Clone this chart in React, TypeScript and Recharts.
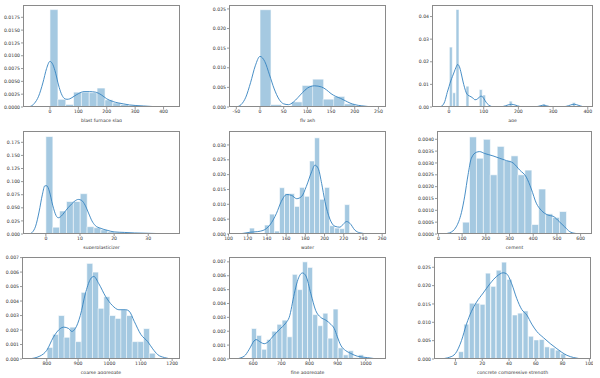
import { ComposedChart, Bar, Line, XAxis, YAxis } from 'recharts'

// histogram bins: start, width, density per bin; kde curve as x/y pairs
const slagBinStart = 0
const slagBinWidth = 27.646
const slagHeights = [0.019, 0.0015, 0.0005, 0.0029, 0.0029, 0.0028, 0.0037, 0.0014, 0.0008, 0.0005, 0.0003, 0.0002, 0.0001]
const slagKdeX = [-85, -70, -55, -40, -25, -12, 0, 10, 20, 30, 40, 50, 60, 70, 85, 100, 120, 140, 160, 180, 200, 220, 240, 260, 280, 300, 330, 360, 390, 425]
const slagKdeY = [0, 0.0001, 0.0007, 0.0021, 0.0047, 0.0075, 0.0089, 0.0083, 0.0066, 0.0043, 0.0026, 0.0017, 0.0015, 0.0016, 0.0021, 0.0026, 0.003, 0.003, 0.0029, 0.0024, 0.0016, 0.0011, 0.0008, 0.0006, 0.0004, 0.0003, 0.0002, 0.0001, 0.00004, 0]

const ashBinStart = 0
const ashBinWidth = 22.233
const ashHeights = [0.0248, 0.0006, 0.0001, 0.0013, 0.0055, 0.0071, 0.002, 0.0027, 0.0008]
const ashKdeX = [-50, -40, -30, -20, -10, 0, 10, 20, 30, 40, 50, 60, 70, 80, 90, 100, 115, 130, 140, 150, 160, 170, 180, 190, 200, 215, 230, 250]
const ashKdeY = [0, 0.0006, 0.0025, 0.0062, 0.0105, 0.0129, 0.0116, 0.0082, 0.0046, 0.002, 0.0008, 0.0006, 0.0012, 0.0024, 0.0037, 0.0048, 0.0054, 0.0051, 0.0044, 0.0034, 0.0027, 0.0022, 0.0016, 0.001, 0.0006, 0.0003, 0.0001, 0]

const ageBinStart = 1
const ageBinWidth = 9.5789
const ageHeights = [
  0.0265, 0.0063, 0.0431, 0, 0, 0.0092, 0, 0, 0, 0.0077, 0.0053, 0, 0.0003, 0, 0, 0, 0, 0, 0.0026,
  0, 0, 0, 0, 0, 0, 0, 0, 0, 0.0013, 0, 0, 0, 0, 0, 0, 0, 0, 0.002,
]
const ageKdeX = [-28, -20, -12, -5, 0, 5, 10, 15, 20, 25, 30, 35, 40, 45, 50, 55, 60, 67, 75, 82, 88, 93, 98, 104, 110, 118, 128, 140, 155, 170, 180, 190, 205, 220, 250, 265, 273, 282, 300, 330, 345, 355, 362, 372, 385, 395]
const ageKdeY = [0, 0.0005, 0.0025, 0.0065, 0.009, 0.0115, 0.0135, 0.0155, 0.0175, 0.0188, 0.0178, 0.015, 0.0115, 0.0085, 0.0062, 0.0052, 0.0048, 0.0042, 0.0032, 0.0035, 0.0045, 0.0048, 0.0043, 0.0028, 0.0015, 0.0005, 0.0001, 0, 0.0002, 0.0009, 0.0012, 0.0009, 0.0002, 0, 0.0001, 0.0006, 0.0008, 0.0005, 0, 0.0001, 0.0006, 0.0011, 0.0012, 0.0008, 0.0002, 0]

const superBinStart = 0
const superBinWidth = 2.0125
const superHeights = [0.186, 0.013, 0.044, 0.062, 0.062, 0.077, 0.014, 0.012, 0.008, 0.004, 0.003, 0.002, 0.001, 0.0015, 0.0005, 0.001]
const superKdeX = [-4.7, -4, -3, -2, -1, -0.3, 0.3, 1, 2, 3, 3.6, 4.5, 5.5, 6.5, 7.5, 8.5, 9.5, 10.5, 11.5, 12.5, 13.5, 14.5, 16, 18, 20, 23, 26, 29, 32, 34.5, 37]
const superKdeY = [0, 0.003, 0.015, 0.042, 0.076, 0.092, 0.092, 0.082, 0.055, 0.035, 0.031, 0.034, 0.042, 0.05, 0.057, 0.063, 0.066, 0.064, 0.055, 0.04, 0.025, 0.016, 0.011, 0.007, 0.004, 0.003, 0.002, 0.0015, 0.001, 0.0004, 0]

const waterBinStart = 121.8
const waterBinWidth = 5.2167
const waterHeights = [0.002, 0, 0, 0.003, 0.0067, 0.001, 0.0156, 0.0136, 0.0136, 0.0093, 0.0157, 0.0127, 0.0246, 0.0324, 0.0117, 0.0157, 0.0028, 0.002, 0.0018, 0.0099, 0.0005, 0.0002, 0, 0.0002]
const waterKdeX = [107, 115, 122.5, 130, 136, 143, 150, 155, 160.6, 165.8, 171, 176, 181, 186.6, 190, 193.5, 197, 200.4, 205.6, 210.8, 216, 220, 223, 226.4, 231.6, 236.8, 243.7, 250, 257]
const waterKdeY = [0, 0.0002, 0.0006, 0.0008, 0.0012, 0.003, 0.007, 0.011, 0.0133, 0.013, 0.0119, 0.0126, 0.016, 0.021, 0.0232, 0.022, 0.017, 0.011, 0.005, 0.0026, 0.0023, 0.0035, 0.0042, 0.0036, 0.0013, 0.0004, 0.0001, 0.00003, 0]

const cementBinStart = 102
const cementBinWidth = 29.2
const cementHeights = [0.0005, 0.0041, 0.0032, 0.004, 0.0025, 0.0037, 0.0031, 0.0033, 0.0025, 0.0027, 0.0004, 0.0019, 0.00085, 0.0007, 0.00095]
const cementKdeX = [20, 47, 75, 97, 111, 125, 139, 160, 174, 195, 230, 258, 287, 315, 343, 371, 392, 413, 434, 462, 484, 512, 533, 554, 575, 600]
const cementKdeY = [0, 0.00005, 0.0003, 0.0009, 0.0016, 0.0025, 0.0032, 0.00345, 0.00348, 0.0034, 0.0033, 0.0032, 0.0031, 0.003, 0.0027, 0.0024, 0.0019, 0.0013, 0.001, 0.0008, 0.00075, 0.0005, 0.0003, 0.0001, 0.00003, 0]

const coarseBinStart = 801
const coarseBinWidth = 18.105
const coarseHeights = [0.0008, 0.0017, 0.003, 0.0015, 0.0022, 0.0012, 0.0046, 0.0066, 0.006, 0.0035, 0.0043, 0.003, 0.0028, 0.0034, 0.003, 0.0012, 0.0012, 0.0021, 0.0004]
const coarseKdeX = [741, 778, 800, 821, 843, 854, 870, 880, 891, 907, 923, 939, 950, 966, 988, 1009, 1030, 1052, 1063, 1079, 1100, 1122, 1138, 1154, 1175, 1202]
const coarseKdeY = [0, 0.0002, 0.0006, 0.0015, 0.0021, 0.0022, 0.0021, 0.0019, 0.0021, 0.003, 0.0045, 0.0055, 0.0057, 0.0052, 0.0043, 0.0037, 0.0034, 0.0034, 0.0033, 0.0026, 0.0017, 0.0012, 0.0007, 0.0003, 0.0001, 0]

const fineBinStart = 594
const fineBinWidth = 18.118
const fineHeights = [0.0022, 0.0017, 0.0007, 0.0014, 0.002, 0.0025, 0.0028, 0.0016, 0.0061, 0.005, 0.007, 0.0066, 0.0032, 0.0024, 0.0033, 0.0015, 0.0036, 0.0008, 0.0003, 0.0006, 0.0001, 0.0003]
const fineKdeX = [538, 568, 586, 603, 610, 627, 639, 651, 669, 692, 716, 728, 746, 757, 775, 787, 805, 822, 840, 858, 876, 888, 899, 911, 929, 947, 970, 1006, 1041]
const fineKdeY = [0, 0.0002, 0.0007, 0.0013, 0.0014, 0.0012, 0.0011, 0.0012, 0.0016, 0.0021, 0.0026, 0.003, 0.0047, 0.0056, 0.0062, 0.006, 0.0047, 0.0035, 0.003, 0.0028, 0.0025, 0.0022, 0.0016, 0.001, 0.0006, 0.0004, 0.0002, 0.0001, 0]

const strengthBinStart = 2.33
const strengthBinWidth = 4.0135
const strengthHeights = [0.002, 0.0095, 0.0152, 0.0152, 0.0149, 0.0234, 0.0198, 0.0242, 0.0264, 0.0217, 0.012, 0.0125, 0.0131, 0.0062, 0.0052, 0.0053, 0.0033, 0.003, 0.0024, 0.0014]
const strengthKdeX = [-11.75, -4.25, 0, 4.5, 8.25, 12, 15.75, 20.75, 25.75, 30.75, 35.75, 38.25, 42, 45.75, 49.5, 53.25, 57, 60.75, 65.75, 70.75, 75.75, 79.5, 83.25, 88.25, 95.75]
const strengthKdeY = [0, 0.0005, 0.0015, 0.005, 0.0095, 0.013, 0.0155, 0.018, 0.0205, 0.0225, 0.0235, 0.0232, 0.0205, 0.0165, 0.0135, 0.012, 0.0095, 0.0075, 0.0058, 0.0042, 0.0028, 0.0018, 0.001, 0.0004, 0]

const BLUE = '#1f77b4'
const LINE = '#3482c0'
const FONT = 'DejaVu Sans'
const FS = 4.6
const YW = 26
const XH = 15
const PAD = 4 // room above the plot so the top tick label is not clipped

interface PanelProps {
  left: number
  top: number
  w: number
  h: number
  label: string
  binStart: number
  binWidth: number
  heights: number[]
  kdeX: number[]
  kdeY: number[]
  xDomain: [number, number]
  yDomain: [number, number]
  xTicks: number[]
  yTicks: number[]
  dec: number
}

const Panel = (p: PanelProps) => {
  const bins = p.heights.map((h, i) => ({ x: p.binStart + (i + 0.5) * p.binWidth, h }))
  const kde = p.kdeX.map((x, i) => ({ x, y: p.kdeY[i] }))
  const tickStyle = { fontSize: FS, fill: '#333', fontFamily: FONT }

  return (
    <div style={{ position: 'absolute', left: p.left - YW, top: p.top - PAD }}>
      <ComposedChart
        width={YW + p.w + 2}
        height={p.h + XH + PAD}
        data={bins}
        margin={{ top: PAD, right: 2, bottom: 0, left: 0 }}
        barCategoryGap={0}
        barGap={0}
      >
        <XAxis
          xAxisId="bin"
          type="number"
          dataKey="x"
          domain={p.xDomain}
          ticks={p.xTicks}
          allowDataOverflow
          height={XH}
          axisLine={false}
          tickLine={{ stroke: '#555', strokeWidth: 0.6 }}
          tickSize={2}
          tickMargin={0.5}
          tick={tickStyle}
          interval={0}
          label={{ value: p.label, position: 'insideBottom', offset: 0, fontSize: FS, fill: '#333', fontFamily: FONT }}
        />
        <XAxis xAxisId="kde" type="number" dataKey="x" domain={p.xDomain} allowDataOverflow hide />
        <YAxis
          type="number"
          domain={p.yDomain}
          ticks={p.yTicks}
          allowDataOverflow
          width={YW}
          axisLine={false}
          tickLine={{ stroke: '#555', strokeWidth: 0.6 }}
          tickSize={2}
          tickMargin={1}
          tick={tickStyle}
          interval={0}
          tickFormatter={(v: number) => v.toFixed(p.dec)}
        />
        <Bar
          xAxisId="bin"
          dataKey="h"
          fill={BLUE}
          fillOpacity={0.4}
          stroke="#fff"
          strokeWidth={0.6}
          isAnimationActive={false}
        />
        <Line
          xAxisId="kde"
          data={kde}
          dataKey="y"
          type="monotone"
          stroke={LINE}
          strokeWidth={0.9}
          dot={false}
          activeDot={false}
          isAnimationActive={false}
        />
      </ComposedChart>
      <div
        style={{
          position: 'absolute',
          left: YW,
          top: PAD,
          width: p.w,
          height: p.h,
          border: '1px solid #8a8a8a',
          boxSizing: 'border-box',
          pointerEvents: 'none',
        }}
      />
    </div>
  )
}

export default function App() {
  return (
    <div style={{ position: 'absolute', left: 0, top: 0, width: 600, height: 378, background: '#fff' }}>
      <Panel left={23} top={5} w={157} h={102} label="blast furnace slag"
        binStart={slagBinStart} binWidth={slagBinWidth} heights={slagHeights} kdeX={slagKdeX} kdeY={slagKdeY}
        xDomain={[-95, 458]} yDomain={[0, 0.0199]} xTicks={[0, 100, 200, 300, 400]}
        yTicks={[0, 0.0025, 0.005, 0.0075, 0.01, 0.0125, 0.015, 0.0175]} dec={4} />
      <Panel left={229} top={5} w={157} h={102} label="fly ash"
        binStart={ashBinStart} binWidth={ashBinWidth} heights={ashHeights} kdeX={ashKdeX} kdeY={ashKdeY}
        xDomain={[-65.5, 266]} yDomain={[0, 0.026]} xTicks={[-50, 0, 50, 100, 150, 200, 250]}
        yTicks={[0, 0.005, 0.01, 0.015, 0.02, 0.025]} dec={3} />
      <Panel left={432} top={5} w={161} h={102} label="age"
        binStart={ageBinStart} binWidth={ageBinWidth} heights={ageHeights} kdeX={ageKdeX} kdeY={ageKdeY}
        xDomain={[-49, 415]} yDomain={[0, 0.0451]} xTicks={[0, 100, 200, 300, 400]}
        yTicks={[0, 0.01, 0.02, 0.03, 0.04]} dec={2} />

      <Panel left={23} top={131} w={157} h={103} label="superplasticizer"
        binStart={superBinStart} binWidth={superBinWidth} heights={superHeights} kdeX={superKdeX} kdeY={superKdeY}
        xDomain={[-6.7, 39.3]} yDomain={[0, 0.1966]} xTicks={[0, 10, 20, 30]}
        yTicks={[0, 0.025, 0.05, 0.075, 0.1, 0.125, 0.15, 0.175]} dec={3} />
      <Panel left={229} top={131} w={157} h={103} label="water"
        binStart={waterBinStart} binWidth={waterBinWidth} heights={waterHeights} kdeX={waterKdeX} kdeY={waterKdeY}
        xDomain={[100.5, 264]} yDomain={[0, 0.0347]} xTicks={[100, 120, 140, 160, 180, 200, 220, 240, 260]}
        yTicks={[0, 0.005, 0.01, 0.015, 0.02, 0.025, 0.03]} dec={3} />
      <Panel left={437} top={131} w={155} h={103} label="cement"
        binStart={cementBinStart} binWidth={cementBinWidth} heights={cementHeights} kdeX={cementKdeX} kdeY={cementKdeY}
        xDomain={[-6, 648]} yDomain={[0, 0.00435]} xTicks={[0, 100, 200, 300, 400, 500, 600]}
        yTicks={[0, 0.0005, 0.001, 0.0015, 0.002, 0.0025, 0.003, 0.0035, 0.004]} dec={4} />

      <Panel left={22} top={257} w={158} h={102} label="coarse aggregate"
        binStart={coarseBinStart} binWidth={coarseBinWidth} heights={coarseHeights} kdeX={coarseKdeX} kdeY={coarseKdeY}
        xDomain={[721, 1225]} yDomain={[0, 0.00704]} xTicks={[800, 900, 1000, 1100, 1200]}
        yTicks={[0, 0.001, 0.002, 0.003, 0.004, 0.005, 0.006, 0.007]} dec={3} />
      <Panel left={229} top={257} w={157} h={102} label="fine aggregate"
        binStart={fineBinStart} binWidth={fineBinWidth} heights={fineHeights} kdeX={fineKdeX} kdeY={fineKdeY}
        xDomain={[514, 1072]} yDomain={[0, 0.00735]} xTicks={[600, 700, 800, 900, 1000]}
        yTicks={[0, 0.001, 0.002, 0.003, 0.004, 0.005, 0.006, 0.007]} dec={3} />
      <Panel left={434} top={257} w={157} h={102} label="concrete compressive strength"
        binStart={strengthBinStart} binWidth={strengthBinWidth} heights={strengthHeights} kdeX={strengthKdeX} kdeY={strengthKdeY}
        xDomain={[-16, 101.2]} yDomain={[0, 0.0278]} xTicks={[0, 20, 40, 60, 80, 100]}
        yTicks={[0, 0.005, 0.01, 0.015, 0.02, 0.025]} dec={3} />
    </div>
  )
}
